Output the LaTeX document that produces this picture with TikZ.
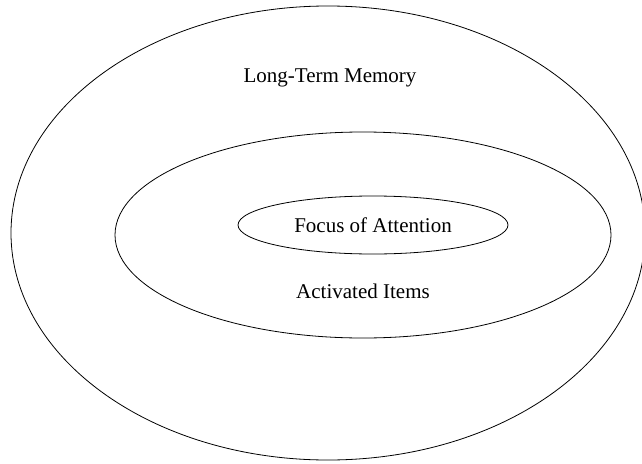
\documentclass[tikz,border=0pt]{standalone}
\usepackage{fontspec}
\setmainfont{Liberation Serif}
\usepackage{tikz}

\begin{document}
\begin{tikzpicture}[x=1pt, y=-1pt, line width=0.8pt,
  every node/.style={font=\fontsize{21}{25}\selectfont}]

\useasboundingbox (0,0) rectangle (642,463);

% Outer ellipse (long-term memory)
\draw (328,233) ellipse [x radius=317, y radius=227];

% Middle ellipse (activated items)
\draw (363,235) ellipse [x radius=248, y radius=103];

% Inner ellipse (focus of attention)
\draw (373,225) ellipse [x radius=135, y radius=29];

% Labels
\node (ltm) at (330,78) {Long-Term Memory};
\node (foa) at (373,225) {Focus of Attention};
\node (act) at (363,291) {Activated Items};

\end{tikzpicture}
\end{document}
